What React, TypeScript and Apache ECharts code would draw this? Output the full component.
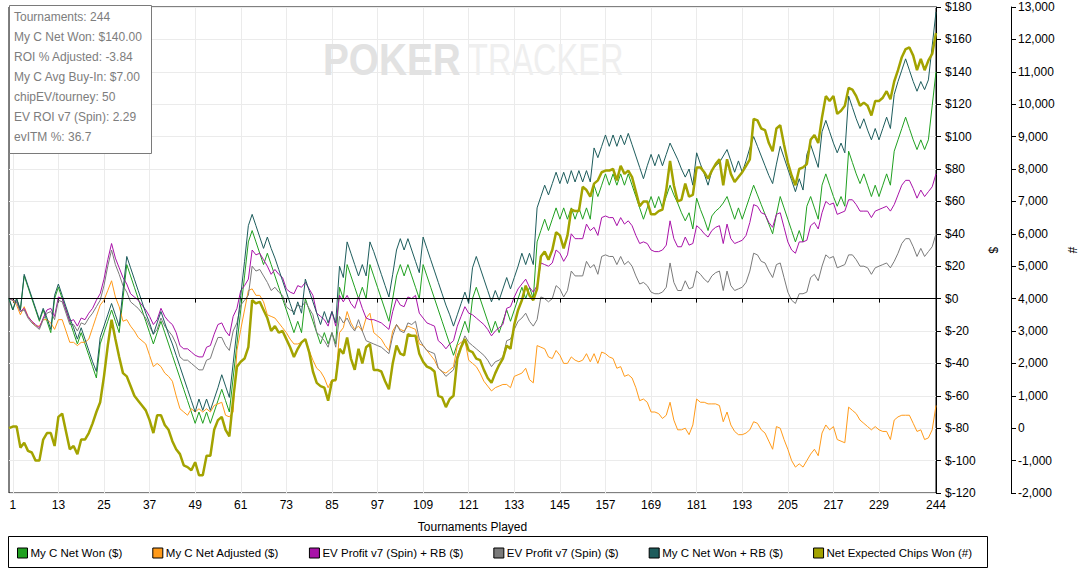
import React, { useEffect, useRef } from "react";
import * as echarts from "echarts";

const CATEGORIES = Array.from({ length: 245 }, (_, i) => String(i));
const X_TICKS = [1, 13, 25, 37, 49, 61, 73, 85, 97, 109, 121, 133, 145, 157, 169, 181, 193, 205, 217, 229, 244];

const INFO_LINES = [
  "Tournaments: 244",
  "My C Net Won: $140.00",
  "ROI % Adjusted: -3.84",
  "My C Avg Buy-In: $7.00",
  "chipEV/tourney: 50",
  "EV ROI v7 (Spin): 2.29",
  "evITM %: 36.7",
];

const NET_WON = [
  0, -7, 0, -7, 14, 7, 0, -7, -14, -7,
  -14, -21, 0, 7, 0, -7, -14, -21, -28, -21,
  -28, -35, -42, -49, -28, -21, -14, -7, -14, -21,
  0, 21, 14, 7, 0, -7, -14, -21, -28, -21,
  -14, -21, -28, -35, -42, -49, -56, -63, -70, -77,
  -70, -77, -70, -77, -70, -63, -56, -63, -70, -49,
  -28, -7, 14, 35, 42, 35, 28, 21, 28, 21,
  14, 7, 0, -7, -14, -21, -14, -21, 0, -7,
  -14, -21, -28, -21, -28, -21, -28, 7, 0, 21,
  14, 7, 0, 7, 0, 21, 14, 7, 0, -7,
  -14, 0, 14, 21, 14, 21, 14, 7, 0, 21,
  14, 7, 0, -7, -14, -21, -28, -35, -28, -21,
  -14, -21, 0, 7, 0, -7, -14, -21, -14, -21,
  -14, -7, -14, -7, 0, 7, 0, 7, 0, 35,
  42, 49, 42, 49, 56, 49, 56, 49, 56, 49,
  56, 49, 56, 49, 70, 63, 70, 77, 70, 77,
  70, 77, 70, 77, 70, 63, 56, 49, 56, 63,
  56, 63, 56, 63, 70, 64, 59, 53, 48, 53,
  43, 62, 55, 49, 42, 51, 54, 56, 59, 63,
  56, 49, 56, 49, 56, 63, 70, 64, 58, 52,
  46, 40, 52, 63, 56, 49, 42, 35, 42, 35,
  57, 63, 56, 49, 70, 77, 70, 63, 57, 63,
  57, 91, 84, 77, 71, 77, 70, 63, 70, 63,
  70, 77, 70, 91, 98, 105, 112, 105, 98, 92,
  98, 92, 98, 119, 140,
];

const NET_ADJUSTED = [
  0, -1, -4, -10, -5, -11, -14, -17, -17, -13,
  -13, -15, -19, -13, -13, -20, -27, -27, -29, -27,
  -27, -25, -18, -11, -4, -1, 5, 11, 1, -5,
  -14, -13, -17, -20, -24, -26, -28, -35, -42, -40,
  -42, -46, -48, -51, -60, -68, -70, -72, -68, -70,
  -68, -70, -68, -70, -66, -65, -64, -72, -73, -70,
  -32, -19, -7, 5, 6, 2, 2, -2, -10, -11,
  -12, -15, -18, -21, -25, -28, -28, -27, -25, -32,
  -38, -43, -45, -49, -55, -50, -51, -21, -18, -8,
  -15, -19, -17, -20, -12, -9, -21, -23, -25, -29,
  -32, -20, -16, -19, -20, -17, -18, -19, -28, -29,
  -32, -35, -38, -43, -45, -46, -44, -42, -29, -27,
  -26, -38, -40, -42, -46, -51, -54, -57, -55, -54,
  -53, -53, -55, -48, -47, -46, -43, -50, -52, -29,
  -30, -31, -36, -37, -32, -35, -40, -40, -36, -38,
  -39, -38, -34, -39, -34, -40, -33, -34, -36, -37,
  -43, -42, -48, -47, -49, -55, -63, -62, -64, -70,
  -70, -71, -74, -72, -64, -75, -81, -81, -80, -84,
  -78, -62, -64, -64, -65, -65, -65, -66, -76, -70,
  -78, -82, -84, -84, -83, -81, -76, -77, -81, -83,
  -88, -93, -79, -80, -87, -93, -100, -104, -102, -104,
  -100, -96, -93, -97, -83, -78, -81, -79, -87, -88,
  -89, -67, -69, -71, -75, -77, -79, -81, -79, -81,
  -82, -82, -87, -75, -73, -72, -72, -72, -77, -82,
  -81, -87, -86, -81, -66,
];

const EV_PROFIT_RB = [
  0, -1, -2, -8, -6, -11, -14, -16, -18, -12,
  -7, -6, -11, 1, 0, -7, -14, -13, -17, -12,
  -13, -9, -6, -1, 3, 12, 24, 34, 25, 19,
  13, 9, 3, 1, -1, -4, -7, -11, -16, -13,
  -6, -11, -14, -16, -21, -29, -31, -31, -33, -35,
  -36, -36, -30, -29, -22, -16, -15, -20, -23, -11,
  -6, 5, 8, 12, 30, 27, 28, 24, 20, 15,
  18, 15, 13, 6, 4, 3, 8, 7, 10, 6,
  2, -9, -11, -13, -17, -8, -17, 2, -2, 2,
  -3, -6, 1, -6, -12, -13, -13, -14, -15, -17,
  -19, -8, 0, -4, -5, 1, 0, 2, -9, -12,
  -15, -16, -17, -26, -28, -31, -28, -26, -17, -11,
  -5, -9, -10, -12, -14, -16, -19, -23, -20, -18,
  -16, -6, -5, 1, 6, 9, 12, 7, 4, 8,
  22, 21, 20, 22, 30, 28, 23, 27, 40, 37,
  37, 37, 46, 42, 44, 39, 50, 51, 50, 50,
  45, 50, 46, 48, 45, 39, 34, 35, 34, 30,
  29, 29, 30, 33, 48, 37, 32, 32, 38, 33,
  34, 45, 43, 40, 38, 42, 44, 45, 34, 46,
  37, 34, 35, 36, 39, 47, 58, 57, 53, 52,
  47, 44, 52, 53, 44, 35, 30, 28, 35, 35,
  36, 45, 47, 43, 53, 60, 58, 59, 52, 53,
  54, 61, 61, 58, 54, 54, 54, 50, 54, 55,
  56, 57, 54, 58, 64, 70, 73, 73, 68, 62,
  67, 63, 66, 69, 77,
];

const EV_PROFIT = [
  0, -1, -2, -8, -7, -12, -15, -17, -19, -13,
  -9, -8, -13, -1, -2, -9, -16, -16, -20, -15,
  -16, -12, -9, -5, -1, 8, 20, 30, 21, 15,
  8, 4, -2, -4, -6, -9, -12, -17, -22, -19,
  -12, -17, -20, -23, -28, -36, -38, -38, -40, -42,
  -44, -44, -38, -37, -30, -24, -24, -29, -32, -20,
  -15, -4, -1, 2, 20, 17, 18, 14, 10, 5,
  7, 4, 2, -5, -7, -8, -4, -5, -2, -6,
  -10, -21, -23, -26, -30, -21, -30, -11, -15, -12,
  -17, -20, -13, -20, -26, -27, -28, -29, -30, -32,
  -34, -23, -16, -20, -21, -15, -16, -14, -25, -29,
  -32, -33, -34, -43, -45, -48, -46, -44, -35, -29,
  -23, -27, -29, -31, -33, -35, -38, -42, -39, -38,
  -36, -26, -25, -19, -14, -12, -9, -14, -17, -13,
  1, 0, -2, 0, 8, 6, 1, 5, 17, 14,
  14, 14, 23, 19, 21, 15, 26, 27, 26, 26,
  21, 26, 21, 23, 20, 14, 9, 10, 8, 4,
  3, 3, 4, 7, 22, 10, 5, 5, 11, 6,
  7, 17, 15, 12, 10, 14, 16, 17, 5, 17,
  8, 5, 6, 7, 10, 17, 28, 27, 23, 22,
  17, 13, 21, 22, 13, 4, -1, -3, 3, 3,
  4, 13, 15, 11, 20, 27, 25, 26, 19, 20,
  21, 27, 27, 24, 20, 20, 19, 15, 19, 20,
  21, 22, 19, 23, 28, 34, 37, 37, 32, 26,
  31, 26, 29, 32, 40,
];

const NET_WON_RB = [
  0, -7, 0, -7, 15, 8, 1, -6, -13, -6,
  -12, -19, 2, 9, 2, -5, -12, -18, -25, -18,
  -25, -32, -39, -45, -24, -17, -10, -3, -10, -17,
  5, 26, 19, 12, 5, -2, -9, -15, -22, -15,
  -8, -15, -22, -28, -35, -42, -49, -56, -63, -70,
  -62, -69, -62, -69, -62, -55, -47, -54, -61, -40,
  -19, 2, 23, 45, 52, 45, 38, 31, 38, 31,
  25, 18, 11, 4, -3, -10, -2, -9, 12, 5,
  -2, -9, -16, -8, -15, -8, -15, 20, 13, 35,
  28, 21, 14, 21, 14, 35, 29, 22, 15, 8,
  1, 15, 30, 37, 30, 37, 30, 23, 16, 38,
  31, 24, 17, 10, 3, -4, -10, -17, -10, -3,
  4, -3, 19, 26, 19, 12, 5, -2, 5, -1,
  6, 13, 6, 13, 20, 28, 21, 28, 21, 56,
  63, 70, 64, 71, 78, 71, 78, 71, 79, 72,
  79, 72, 79, 72, 93, 87, 94, 101, 94, 101,
  94, 101, 95, 102, 95, 88, 81, 74, 82, 89,
  82, 89, 82, 89, 96, 91, 86, 80, 75, 80,
  70, 90, 83, 77, 70, 79, 82, 84, 88, 92,
  85, 78, 85, 78, 85, 93, 100, 94, 88, 82,
  76, 71, 83, 94, 87, 80, 73, 66, 74, 67,
  89, 95, 88, 81, 103, 110, 103, 96, 90, 96,
  90, 125, 118, 111, 105, 111, 104, 98, 105, 98,
  105, 112, 105, 126, 134, 141, 148, 141, 134, 128,
  134, 129, 135, 156, 177,
];

const NET_EXPECTED_CHIPS = [
  0, 50, 50, -600, -450, -700, -750, -1000, -1000, -350,
  -150, -150, -550, 350, 450, -100, -650, -550, -800, -350,
  -350, -150, 150, 500, 800, 1600, 2550, 3350, 2750, 2200,
  1700, 1600, 1300, 1000, 850, 700, 550, 250, -150, 400,
  400, 100, -50, -400, -650, -800, -1150, -1200, -1300, -1050,
  -1450, -1450, -850, -850, -50, 250, 350, -50, -250, 900,
  1900, 2050, 2150, 2500, 3950, 3850, 3900, 3650, 3400, 3000,
  3150, 2950, 3000, 2750, 2500, 2200, 2450, 2650, 2750, 2350,
  1750, 1400, 1300, 1250, 850, 1450, 1500, 2450, 2300, 2800,
  2150, 1800, 2450, 2000, 2500, 2600, 1800, 1800, 1750, 1450,
  1200, 2000, 2550, 2300, 2250, 2900, 2850, 2850, 2300, 2050,
  1900, 1850, 1750, 1000, 950, 650, 900, 1000, 2150, 2500,
  2750, 2400, 2350, 2150, 2100, 1800, 1550, 1400, 1700, 1950,
  2150, 2550, 2450, 3200, 3650, 3950, 4400, 4100, 3950, 4300,
  5300, 5450, 5200, 5500, 6050, 5950, 5550, 5950, 6750, 6700,
  6700, 7450, 7350, 7150, 7550, 7650, 7900, 7950, 7950, 8000,
  7650, 8100, 7850, 7950, 7750, 7300, 6850, 7000, 7000, 6600,
  6600, 6700, 6750, 7350, 8250, 7500, 7000, 7050, 7550, 7150,
  7200, 8050, 8050, 7900, 7700, 7950, 8150, 8300, 7500, 8300,
  7850, 7600, 7750, 7900, 8100, 8300, 9550, 9500, 9250, 9200,
  8800, 8550, 9250, 9350, 8750, 8200, 7800, 7500, 8000, 8050,
  8150, 8900, 9050, 8800, 9600, 10250, 10100, 10250, 9700, 9800,
  9950, 10500, 10450, 10250, 9950, 10050, 9950, 9650, 10100, 10100,
  10200, 10400, 10150, 10700, 11050, 11450, 11700, 11750, 11500, 11050,
  11400, 11050, 11350, 11550, 12200,
];

const FONT = "'Liberation Sans', Arial, sans-serif";

export default function App() {
  const ref = useRef<HTMLDivElement>(null);

  useEffect(() => {
    document.body.style.margin = "0";
    if (!ref.current) return;
    const chart = echarts.init(ref.current, null, { renderer: "svg" });
    const showIdx = (idx: number) => X_TICKS.includes(idx);

    const mk = (name: string, data: number[], color: string, width = 1, yAxisIndex = 0, extra: any = {}) => ({
      name,
      type: "line",
      data,
      yAxisIndex,
      symbol: "none",
      showSymbol: false,
      lineStyle: { color, width },
      itemStyle: { color },
      emphasis: { disabled: true },
      ...extra,
    });

    chart.setOption({
      animation: false,
      backgroundColor: "#ffffff",
      textStyle: { fontFamily: FONT },
      grid: {
        left: 9,
        right: 143,
        top: 7,
        bottom: 82,
        containLabel: false,
        outerBoundsMode: "none",
        show: true,
        borderColor: "#000",
        borderWidth: 1,
        backgroundColor: "transparent",
      },
      legend: {
        left: 17,
        top: 547,
        padding: 0,
        itemWidth: 10,
        itemHeight: 10,
        itemGap: 30,
        icon: "rect",
        itemStyle: { borderColor: "#000", borderWidth: 1 },
        textStyle: { fontFamily: FONT, fontSize: 11.5, color: "#000", padding: [0, 0, 0, -2] },
      },
      xAxis: {
        type: "category",
        data: CATEGORIES,
        boundaryGap: false,
        axisLine: { lineStyle: { color: "#000", width: 1 } },
        axisTick: { show: true, interval: showIdx, length: 4, lineStyle: { color: "#000" } },
        axisLabel: { interval: showIdx, color: "#000", fontSize: 12, fontFamily: FONT, margin: 6 },
        splitLine: { show: true, interval: showIdx, lineStyle: { color: "#ebebeb", width: 1 } },
        name: "Tournaments Played",
        nameLocation: "middle",
        nameGap: 28,
        nameTextStyle: { color: "#000", fontSize: 12, fontFamily: FONT },
      },
      yAxis: [
        {
          type: "value",
          position: "right",
          min: -120,
          max: 180,
          interval: 20,
          axisLine: { show: true, lineStyle: { color: "#000" } },
          axisTick: { show: true, length: 5, lineStyle: { color: "#000" } },
          axisLabel: { formatter: (v: number) => "$" + v, color: "#000", fontSize: 12, fontFamily: FONT, margin: 9 },
          splitLine: { show: true, lineStyle: { color: "#ebebeb", width: 1 } },
          name: "$",
          nameLocation: "middle",
          nameGap: 47,
          nameRotate: -90,
          nameTextStyle: { color: "#000", fontSize: 12, fontFamily: FONT },
        },
        {
          type: "value",
          position: "right",
          offset: 75,
          min: -2000,
          max: 13000,
          interval: 1000,
          axisLine: { show: true, lineStyle: { color: "#000" } },
          axisTick: { show: true, length: 5, lineStyle: { color: "#000" } },
          axisLabel: {
            formatter: (v: number) => v.toLocaleString("en-US"),
            color: "#000",
            fontSize: 12,
            fontFamily: FONT,
            margin: 7,
          },
          splitLine: { show: false },
          name: "#",
          nameLocation: "middle",
          nameGap: 52,
          nameRotate: -90,
          nameTextStyle: { color: "#000", fontSize: 12, fontFamily: FONT },
        },
      ],
      graphic: [
        {
          type: "text",
          left: 323,
          top: 38,
          z: 1,
          silent: true,
          style: { text: "POKER", fill: "#e2e2e2", font: "bold 44px 'Liberation Sans', Arial, sans-serif" },
          scaleX: 0.88,
        },
        {
          type: "text",
          left: 468,
          top: 38,
          z: 1,
          silent: true,
          style: { text: "TRACKER", fill: "#efefef", font: "44px 'Liberation Sans', Arial, sans-serif" },
          scaleX: 0.74,
        },
        {
          type: "group",
          left: 9,
          top: 5,
          z: 100,
          children: [
            {
              type: "rect",
              shape: { x: 0.5, y: 0.5, width: 142, height: 148 },
              style: { fill: "#ffffff", stroke: "#7a7a7a", lineWidth: 1 },
              z: 100,
            },
            ...INFO_LINES.map((t, i) => ({
              type: "text",
              x: 5,
              y: 12 + i * 20,
              z: 101,
              style: {
                text: t,
                fill: "#7d7d7d",
                font: "12px 'Liberation Sans', Arial, sans-serif",
                verticalAlign: "middle",
                align: "left",
              },
            })),
          ],
        },
        {
          type: "rect",
          shape: { x: 8.5, y: 536.5, width: 979, height: 31 },
          style: { fill: "none", stroke: "#000", lineWidth: 1 },
          silent: true,
        },
      ],
      series: [
        mk("My C Net Won ($)", NET_WON, "#20a020", 1, 0, {
          markLine: {
            silent: true,
            symbol: ["none", "none"],
            label: { show: false },
            lineStyle: { color: "#000", width: 1, type: "solid" },
            data: [{ yAxis: 0 }],
          },
        }),
        mk("My C Net Adjusted ($)", NET_ADJUSTED, "#ff9a1a", 1),
        mk("EV Profit v7 (Spin) + RB ($)", EV_PROFIT_RB, "#a812a8", 1),
        mk("EV Profit v7 (Spin) ($)", EV_PROFIT, "#7a7a7a", 1),
        mk("My C Net Won + RB ($)", NET_WON_RB, "#1d5c5c", 1),
        mk("Net Expected Chips Won (#)", NET_EXPECTED_CHIPS, "#a3a300", 2.5, 1),
      ],
    });
    return () => chart.dispose();
  }, []);

  return <div ref={ref} style={{ width: 1079, height: 575 }} />;
}
